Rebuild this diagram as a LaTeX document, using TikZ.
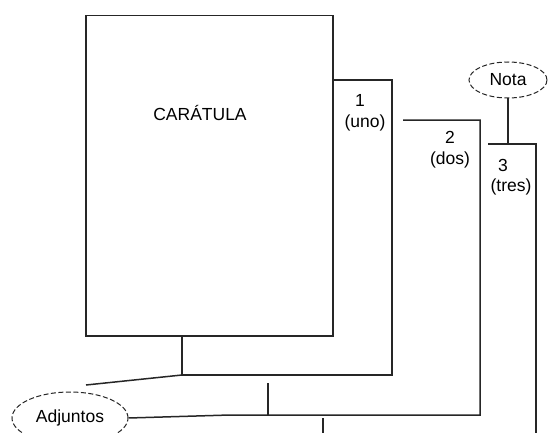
\documentclass[tikz,border=0pt]{standalone}
\usepackage{fontspec}
\setmainfont{Liberation Sans}
\usetikzlibrary{shapes.geometric}
\begin{document}
\begin{tikzpicture}[x=1pt,y=-1pt,
  ln/.style={draw=black!85, line width=1.5pt},
  oval/.style={ellipse, draw=black!85, line width=1pt, dash pattern=on 5pt off 2.5pt, inner sep=0pt, font=\fontsize{17.5}{20}\selectfont},
  lbl/.style={font=\fontsize{17.5}{20}\selectfont, inner sep=0pt}]
\useasboundingbox (0,0) rectangle (548,433);
\clip (0,0) rectangle (548,433);
\fill[white] (0,0) rectangle (548,433);
% Caratula
\node[ln, rectangle, minimum width=247pt, minimum height=320pt, anchor=north west] (car) at (85,15) {};
\node[lbl] (cartxt) at (200,113) {CARÁTULA};
% page 1
\coordinate (p1a) at (car.east |- 0,80);
\coordinate (p1b) at (392,80);
\coordinate (p1c) at (392,375);
\coordinate (j1) at (182,375);
\draw[ln] (p1a) -- (p1b) -- (p1c) -- (j1);
\draw[ln] (car.south -| j1) -- (j1);
% page 2
\coordinate (p2a) at (403,120);
\coordinate (p2b) at (480,120);
\coordinate (p2c) at (480,415);
% page 3
\coordinate (p3a) at (488,144);
\coordinate (p3b) at (536,144);
\coordinate (p3c) at (536,440);
\draw[ln] (p3a) -- (p3b) -- (p3c);
% labels
\node[lbl] (n1) at (360,100) {1};
\node[lbl] (t1) at (365,123) {(uno)};
\node[lbl] (n2) at (450,137) {2};
\node[lbl] (t2) at (450,160) {(dos)};
\node[lbl] (n3) at (503,165) {3};
\node[lbl] (t3) at (511,187) {(tres)};
% Nota
\node[oval, minimum width=78pt, minimum height=36pt] (nota) at (508,80) {Nota};
\draw[ln] (nota.south) -- (nota.south |- p3a);
% Adjuntos
\node[oval, minimum width=116pt, minimum height=52pt] (adj) at (70,418) {Adjuntos};
\coordinate (adjtop) at (86,385);
\draw[ln] (j1) -- (adjtop);
\draw[ln] (p2a) -- (p2b) -- (p2c) -- (230,415) -- (adj.east);
\coordinate (tk1) at (268,383);
\draw[ln] (tk1) -- (tk1 |- p2c);
\coordinate (tk2) at (323,418);
\draw[ln] (tk2) -- (323,440);
\end{tikzpicture}
\end{document}
